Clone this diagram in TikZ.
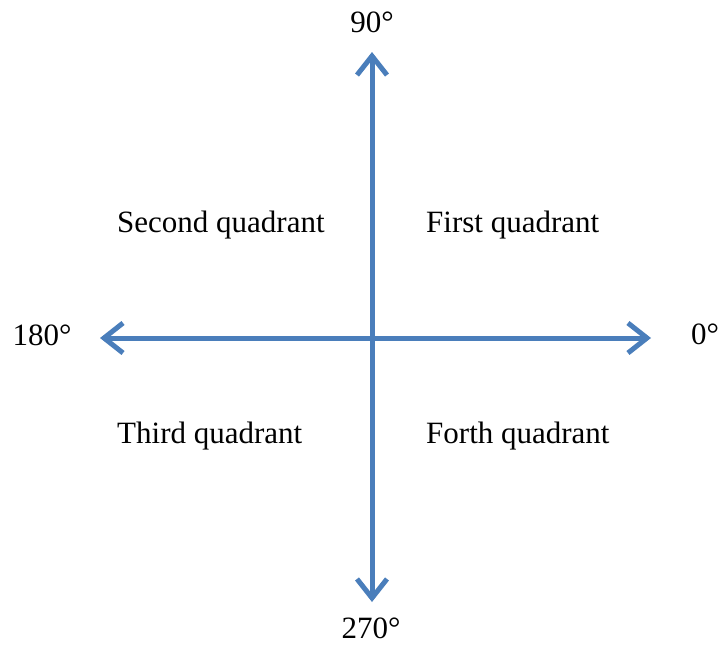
\documentclass[tikz,border=0pt]{standalone}
\usepackage{fontspec}
\setmainfont{Liberation Serif}
\usetikzlibrary{arrows.meta}
\definecolor{axisblue}{RGB}{74,126,187}
\tikzset{
    axis/.style={line width=5pt, axisblue, {Straight Barb[length=19pt, width=30pt, line width=5pt]}-{Straight Barb[length=19pt, width=30pt, line width=5pt]}},
    lbl/.style={anchor=base, inner sep=0pt, font=\fontsize{31}{36}\selectfont},
    quad/.style={anchor=base west, inner sep=0pt, font=\fontsize{31}{36}\selectfont}
}
\begin{document}
\begin{tikzpicture}[x=1pt, y=-1pt]
    \useasboundingbox (0,0) rectangle (720,645);
    % Axis ends
    \coordinate (top) at (372,52);
    \coordinate (bottom) at (372,602);
    \coordinate (left) at (100,338);
    \coordinate (right) at (651,338);

    % Axes
    \draw[axis] (bottom) -- (top);
    \draw[axis] (left) -- (right);

    % Angles
    \node[lbl] (deg90) at (372,32) {90°};
    \node[lbl] (deg270) at (371,638) {270°};
    \node[lbl] (deg180) at (42,345) {180°};
    \node[lbl] (deg0) at (705,344) {0°};

    % Quadrants
    \node[quad] (second) at (117,232) {Second quadrant};
    \node[quad] (first) at (426,232) {First quadrant};
    \node[quad] (third) at (117,443) {Third quadrant};
    \node[quad] (forth) at (426,443) {Forth quadrant};
\end{tikzpicture}
\end{document}
